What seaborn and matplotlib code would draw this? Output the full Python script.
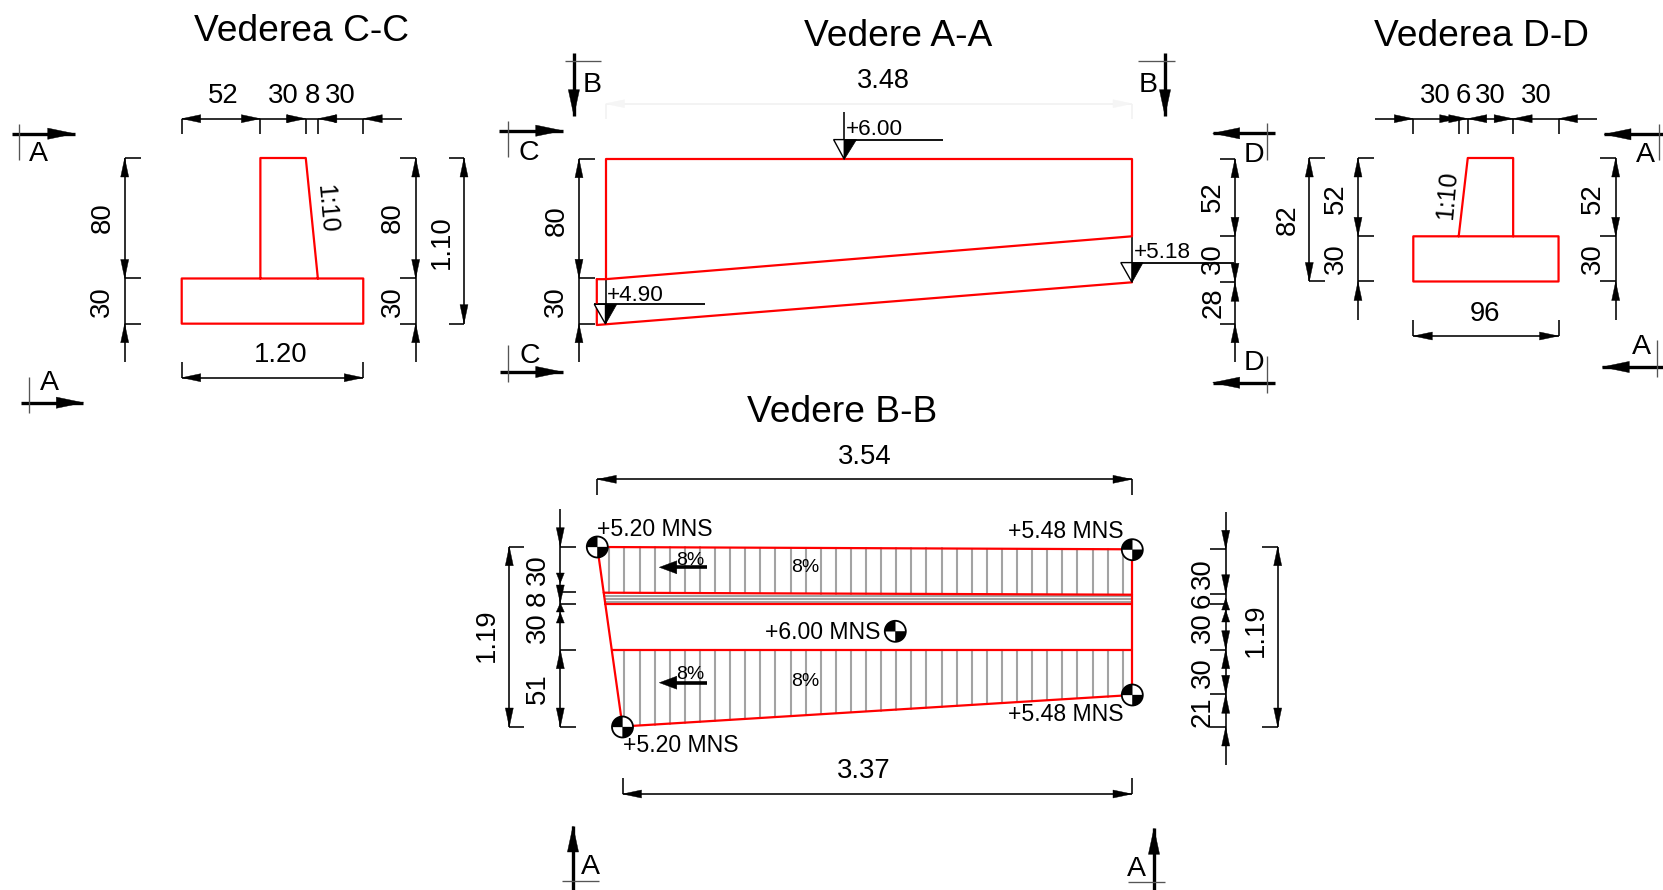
import numpy as np
import pandas as pd
import matplotlib
matplotlib.use("Agg")
import matplotlib.pyplot as plt
import seaborn as sns
from matplotlib.patches import Polygon, Wedge, Circle

# ---- data: dimensions (cm) ----
CC_WIDTHS = [52, 30, 8, 30]
CC_HEIGHTS = [80, 30]
CC_TOTAL_W = "1.20"
CC_TOTAL_H = "1.10"
DD_WIDTHS = [30, 6, 30, 30]
DD_HEIGHTS = [52, 30]
DD_TOTAL_W = 96
DD_TOTAL_H = 82
AA_LEFT = [80, 30]
AA_RIGHT = [52, 30, 28]
AA_LENGTH = "3.48"
AA_LEVELS = ["+6.00", "+5.18", "+4.90"]
BB_LEFT = [30, 8, 30, 51]
BB_RIGHT = [30, 6, 30, 30, 21]
BB_TOTALS = ["3.54", "3.37", "1.19"]
BB_LEVELS = ["+5.20 MNS", "+5.20 MNS", "+5.48 MNS", "+5.48 MNS", "+6.00 MNS"]
BB_SLOPE = "8%"
SLOPE_TEXT = "1:10"
TITLES = ["Vederea C-C", "Vedere A-A", "Vederea D-D", "Vedere B-B"]

W, H = 1663, 890
SX, SY = 1.513, 1.506
RED = "#ff0000"
GRAY = "#a3a3a3"
FONT = "Liberation Sans"
DIM_FS = 19.8
TITLE_FS = 26.7
LW = 1.15
HL, HW = 19, 4.0   # arrow head length / half width (px)

sns.set_theme(style="white")
plt.rcParams["font.family"] = [FONT, "DejaVu Sans"]
fig = plt.figure(figsize=(W / 100, H / 100), dpi=100)
ax = fig.add_axes([0, 0, 1, 1])
ax.set_xlim(0, W)
ax.set_ylim(H, 0)
ax.axis("off")


def line(xs, ys, color="black", lw=LW, z=3):
    ax.plot(xs, ys, color=color, lw=lw, solid_capstyle="butt", zorder=z)


def head(x, y, d, L=HL, w=HW, color="black"):
    dx, dy = {"l": (-1, 0), "r": (1, 0), "u": (0, -1), "d": (0, 1)}[d]
    px, py = -dy, dx
    pts = [(x, y), (x - dx * L + px * w, y - dy * L + py * w), (x - dx * L - px * w, y - dy * L - py * w)]
    ax.add_patch(Polygon(pts, closed=True, fc=color, ec=color, lw=0.3, zorder=5))


def txt(x, y, s, rot=0, fs=DIM_FS, ha="center", va="center"):
    if rot == 0:
        y += 2.3
    elif rot > 0:
        x += 2.3
    ax.text(x, y, str(s), rotation=rot, fontsize=fs, ha=ha, va=va, color="black",
            rotation_mode="anchor", zorder=6)


def vdim(x, ys, tick, y0=None, y1=None, arrows=(), lw=LW):
    line([x, x], [y0 if y0 is not None else ys[0], y1 if y1 is not None else ys[-1]], lw=lw)
    for y in ys:
        line([x, x + tick], [y, y])
    for a in arrows:
        head(x, a[0], a[1], *a[2:])


def hdim(y, xs, tick, x0=None, x1=None, arrows=()):
    line([x0 if x0 is not None else xs[0], x1 if x1 is not None else xs[-1]], [y, y])
    for x in xs:
        line([x, x], [y, y + tick])
    for a in arrows:
        head(a[0], y, a[1], *a[2:])


def section(x0, x1, y, tipd, tx, ty0, ty1, letter, lx, ly):
    """horizontal section arrow"""
    tip = x1 if tipd == "r" else x0
    line([x0, x1], [y, y], lw=2.4)
    head(tip, y, tipd, L=27, w=5.6)
    line([tx, tx], [ty0, ty1], color="#555555", lw=0.95)
    txt(lx, ly, letter, fs=20.5)


def vsection(x, y0, y1, tipd, ty, tx0, tx1, letter, lx, ly):
    tip = y1 if tipd == "d" else y0
    line([x, x], [y0, y1], lw=2.4)
    head(x, tip, tipd, L=26, w=5.6)
    line([tx0, tx1], [ty, ty], color="#555555", lw=0.95)
    txt(lx, ly, letter, fs=20.5)


def level(ax_x, ax_y, stem_top, xl, xr, xend, label, lx, ly):
    top = ax_y - 19.7
    ax.add_patch(Polygon([(xl, top), (ax_x, ax_y), (ax_x, top)], closed=True, fc="white", ec="black", lw=1.0, zorder=4))
    ax.add_patch(Polygon([(ax_x, top), (ax_x, ax_y), (xr, top)], closed=True, fc="black", ec="black", lw=0.5, zorder=4))
    line([xl, xend], [top, top], lw=1.3)
    line([ax_x, ax_x], [stem_top, ax_y])
    txt(lx, ly, label, fs=16.2, ha="left")


def datum(x, y, r=10.5):
    ax.add_patch(Circle((x, y), r, fc="white", ec="black", lw=1.3, zorder=7))
    # y axis is inverted, so these wedge angles are measured clockwise on screen
    ax.add_patch(Wedge((x, y), r, 180, 270, fc="black", ec="black", lw=0.2, zorder=8))
    ax.add_patch(Wedge((x, y), r, 0, 90, fc="black", ec="black", lw=0.2, zorder=8))


# outlines gathered in a table and drawn with seaborn
segments = []


def outline(pts):
    segments.append(np.array(pts, dtype=float))


# ---------- Vederea C-C ----------
cx0, cy0 = 181.7, 158.0
cc_x = cx0 + np.cumsum([0] + CC_WIDTHS) * SX
cc_y = cy0 + np.cumsum([0] + CC_HEIGHTS) * SY
outline([(cc_x[1], cc_y[1]), (cc_x[1], cc_y[0]), (cc_x[2], cc_y[0]), (cc_x[3], cc_y[1]),
         (cc_x[4], cc_y[1]), (cc_x[4], cc_y[2]), (cc_x[0], cc_y[2]), (cc_x[0], cc_y[1]), (cc_x[3], cc_y[1])])
txt(301, 29, TITLES[0], fs=TITLE_FS)
hdim(118.7, cc_x, 15.3, x1=401.7, arrows=[(cc_x[0], "l"), (cc_x[1], "r"), (cc_x[2], "r"), (cc_x[2] - 8, "r", 11),
                                           (cc_x[3], "l"), (cc_x[3] + 8, "l", 10), (cc_x[4], "l")])
for x, v in zip([223.5, 283, 312, 340], CC_WIDTHS):
    txt(x, 94, v)
vdim(124.7, cc_y, 16, y1=362, arrows=[(cc_y[0], "u"), (cc_y[1], "d"), (cc_y[2], "u")])
txt(100, 218, CC_HEIGHTS[0], 90)
txt(100, 301.7, CC_HEIGHTS[1], 90)
vdim(415.7, cc_y, -15.7, y1=362, arrows=[(cc_y[0], "u"), (cc_y[1], "d"), (cc_y[2], "u")])
txt(390.7, 218, CC_HEIGHTS[0], 90)
txt(390.7, 301.7, CC_HEIGHTS[1], 90)
vdim(464, [cc_y[0], cc_y[2]], -15.3, arrows=[(cc_y[0], "u"), (cc_y[2], "d")])
txt(440, 241.7, CC_TOTAL_H, 90)
hdim(377.7, [cc_x[0], cc_x[4]], -15.4, arrows=[(cc_x[0], "l"), (cc_x[4], "r")])
txt(280.7, 352.5, CC_TOTAL_W)
txt(326, 209, SLOPE_TEXT, -85, fs=18)
section(11.7, 74.7, 133.7, "r", 19.3, 123.7, 160, "A", 38, 151.5)
section(20.7, 83.3, 402.7, "r", 29, 376.7, 413, "A", 49.3, 381)

# ---------- Vedere A-A ----------
ax0, ax1 = 605.5, 1132.0
ay_top = 158.7
ay_l = ay_top + np.cumsum([0] + AA_LEFT) * SY
ax_ext = 596.8
outline([(ax0, ay_l[1]), (ax0, ay_top), (ax1, ay_top), (ax1, 236.3)])
outline([(ax_ext, ay_l[1]), (ax0, ay_l[1]), (ax1, 236.3)])
outline([(ax_ext, ay_l[1]), (ax_ext, 325), (ax1, 282.3)])
txt(898, 34.2, TITLES[1], fs=TITLE_FS)
line([ax0, ax1], [103.7, 103.7], color="#f0f0f0")
line([ax0, ax0], [103.7, 119], color="#f2f2f2")
line([ax1, ax1], [103.7, 119], color="#f2f2f2")
head(ax0, 103.7, "l", color="#f5f5f5")
head(ax1, 103.7, "r", color="#f5f5f5")
txt(883, 79, AA_LENGTH, fs=19.5)
level(844.3, 159.3, 112.3, 833.6, 856.5, 943.3, AA_LEVELS[0], 846.3, 127)
level(1132, 282.3, 236.3, 1120.8, 1143, 1234, AA_LEVELS[1], 1134, 250.5)
level(605.5, 324, 278.3, 594.3, 616.7, 704.5, AA_LEVELS[2], 606.5, 293)
aly = [158.7, 278.3, 323.7]
vdim(579, aly, 15.8, y1=362.3, arrows=[(aly[0], "u"), (aly[1], "d"), (aly[2], "u")])
txt(554, 220.7, AA_LEFT[0], 90)
txt(554, 301.7, AA_LEFT[1], 90)
ary = [158.7, 236.3, 282.3, 323.7]
vdim(1235, ary, -15.2, y1=362.3, arrows=[(ary[0], "u"), (ary[1], "d"), (ary[2], "d"), (ary[2], "u"), (ary[3], "u")])
for y, v in zip([196.7, 259, 302.3], AA_RIGHT):
    txt(1211, y, v, 90)
vsection(573.9, 53, 115.7, "d", 61.3, 564.7, 601, "B", 592, 82.5)
vsection(1165, 53, 115.7, "d", 61.3, 1138, 1175, "B", 1148.4, 82.5)
section(499.4, 562.7, 130.7, "r", 507.5, 120.7, 157, "C", 529, 151)
section(500.4, 562.7, 372, "r", 507.5, 345, 382, "C", 530, 353.5)
section(1212.7, 1275, 133.3, "l", 1266.7, 123, 160, "D", 1254, 152.5)
section(1212.7, 1275, 382.7, "l", 1266.7, 356, 392.7, "D", 1254, 360.5)

# ---------- Vederea D-D ----------
dx0, dy0 = 1413.3, 158.0
dd_x = dx0 + np.cumsum([0] + DD_WIDTHS) * SX
dd_y = dy0 + np.cumsum([0] + DD_HEIGHTS) * SY
outline([(dd_x[1], dd_y[1]), (dd_x[2], dd_y[0]), (dd_x[3], dd_y[0]), (dd_x[3], dd_y[1]),
         (dd_x[4], dd_y[1]), (dd_x[4], dd_y[2]), (dd_x[0], dd_y[2]), (dd_x[0], dd_y[1]), (dd_x[3], dd_y[1])])
txt(1481, 34.2, TITLES[2], fs=TITLE_FS)
hdim(118.7, dd_x, 15.3, x0=1375.3, x1=1597,
     arrows=[(dd_x[0], "r"), (dd_x[1], "r"), (dd_x[2], "r"), (dd_x[2], "l"), (dd_x[3], "r"), (dd_x[3], "l"), (dd_x[4], "l")])
for x, v in zip([1435.7, 1463.3, 1490.7, 1536], DD_WIDTHS):
    txt(x, 94, v)
vdim(1309.3, [dd_y[0], dd_y[2]], 16, arrows=[(dd_y[0], "u"), (dd_y[2], "d")])
txt(1285, 220, DD_TOTAL_H, 90)
vdim(1358, dd_y, 15.7, y1=320, arrows=[(dd_y[0], "u"), (dd_y[1], "d"), (dd_y[2], "u")])
txt(1333.3, 198.3, DD_HEIGHTS[0], 90)
txt(1333.3, 259, DD_HEIGHTS[1], 90)
vdim(1615.7, dd_y, -15.7, y1=320, arrows=[(dd_y[0], "u"), (dd_y[1], "d"), (dd_y[2], "u")])
txt(1590.7, 198.3, DD_HEIGHTS[0], 90)
txt(1590.7, 259, DD_HEIGHTS[1], 90)
hdim(336, [dd_x[0], dd_x[4]], -16, arrows=[(dd_x[0], "l"), (dd_x[4], "r")])
txt(1485, 311.5, DD_TOTAL_W)
txt(1444.7, 195, SLOPE_TEXT, 85, fs=18)
section(1604, 1663, 134.3, "l", 1659.3, 124.3, 160, "A", 1645.7, 153)
section(1602.3, 1663, 367, "l", 1657, 340, 377, "A", 1641.7, 344.5)

# ---------- Vedere B-B ----------
TL, TR = (597.3, 547.0), (1132.0, 549.3)
BL, BR = (622.5, 726.5), (1132.0, 695.0)
y2l, y2r = 592.7, 594.7
y3, y4 = 604.3, 649.7


def left_edge(y):
    return TL[0] + (y - TL[1]) * (BL[0] - TL[0]) / (BL[1] - TL[1])


outline([BL, TL, TR, BR, BL])
outline([(left_edge(y2l), y2l), (TR[0], y2r)])
outline([(left_edge(y3), y3), (TR[0], y3)])
outline([(left_edge(y4), y4), (TR[0], y4)])

n_hatch = 35
hatch_x = 609.3 + np.arange(n_hatch) * 15.1
hatch_rows = []
for i, x in enumerate(hatch_x):
    yt = TL[1] + (x - TL[0]) * (TR[1] - TL[1]) / (TR[0] - TL[0])
    ym = y2l + (x - left_edge(y2l)) * (y2r - y2l) / (TR[0] - left_edge(y2l))
    hatch_rows += [(f"u{i}", x, yt), (f"u{i}", x, ym)]
    if x > left_edge(y4) + 4:
        yb = BL[1] + (x - BL[0]) * (BR[1] - BL[1]) / (BR[0] - BL[0])
        hatch_rows += [(f"l{i}", x, y4), (f"l{i}", x, yb)]
for y in [596.2, 598.9, 601.7]:
    hatch_rows += [(f"h{y}", left_edge(y), y), (f"h{y}", TR[0], y)]
hatch = pd.DataFrame(hatch_rows, columns=["seg", "x", "y"])
sns.lineplot(data=hatch, x="x", y="y", units="seg", estimator=None, sort=False,
             color=GRAY, lw=1.5, ax=ax, legend=False, zorder=2)

txt(842, 410.7, TITLES[3], fs=TITLE_FS)
hdim(479.3, [TL[0], TR[0]], 15.7, arrows=[(TL[0], "l"), (TR[0], "r")])
txt(864.3, 455, BB_TOTALS[0])
hdim(794, [BL[0], BR[0]], -15.7, arrows=[(BL[0], "l"), (BR[0], "r")])
txt(863.3, 768.5, BB_TOTALS[1])

vdim(509.3, [546.7, 727], 15, arrows=[(546.7, "u"), (727, "d")])
txt(484.3, 635.7, BB_TOTALS[2], 90)
bly = [546.7, 592.3, 604.3, 649.7, 727]
vdim(560.3, bly, 15.7, y0=508.7, arrows=[(bly[0], "d"), (583, "d", 10), (603, "d", 18), (603, "u", 9),
                                          (612.6, "u", 10.4), (bly[3], "u"), (bly[4], "d")])
for y, v in zip([570, 598.3, 627.3, 688.7], BB_LEFT):
    txt(535.7, y, v, 90)
bry = [549.3, 593.7, 604.3, 649.7, 694.3, 727]
vdim(1225.7, bry, -15.7, y0=511.7, y1=765,
     arrows=[(bry[0], "d"), (bry[1], "d"), (598, "u", 12), (610, "u", 12), (bry[3], "d"), (bry[3], "u"),
             (bry[4], "d"), (bry[4], "u"), (bry[5], "u")])
for y, v in zip([573.3, 600, 627.3, 672.3, 711.7], BB_RIGHT):
    txt(1200.7, y, v, 90)
vdim(1277.7, [546.7, 727], -15.4, arrows=[(546.7, "u"), (727, "d")])
txt(1253.3, 630.7, BB_TOTALS[2], 90)

for (x, y), s in zip([(597.3, 527.3), (623.3, 743), (1008.3, 529.7), (1008.3, 712.3), (765, 630.3)], BB_LEVELS):
    txt(x, y, s, fs=16.6, ha="left")
for x, y in [(TL[0], TL[1]), (BL[0], 727), (1132.3, 549.7), (1132.3, 695), (895.3, 631.3)]:
    datum(x, y)

for yy, ta, tb in [(567.3, 558, 564.7), (682.7, 672.3, 679.3)]:
    line([670, 706.7], [yy, yy], lw=2.6)
    head(659.3, yy, "l", L=17.5, w=6.5)
    txt(690.7, ta, BB_SLOPE, fs=14)
    txt(805.3, tb, BB_SLOPE, fs=14)

vsection(573, 826, 890, "u", 881, 562.3, 599, "A", 590, 865)
vsection(1154, 828.3, 890, "u", 882.3, 1127.7, 1164.7, "A", 1136.7, 866.5)

# draw the red outlines through seaborn
rows = []
for k, seg in enumerate(segments):
    rows += [(k, i, x, y) for i, (x, y) in enumerate(seg)]
red = pd.DataFrame(rows, columns=["part", "order", "x", "y"])
sns.lineplot(data=red, x="x", y="y", units="part", estimator=None, sort=False,
             color=RED, lw=1.6, ax=ax, legend=False, zorder=3.5)

ax.set_xlim(0, W)
ax.set_ylim(H, 0)
fig.savefig("out.png", dpi=100, facecolor="white")
